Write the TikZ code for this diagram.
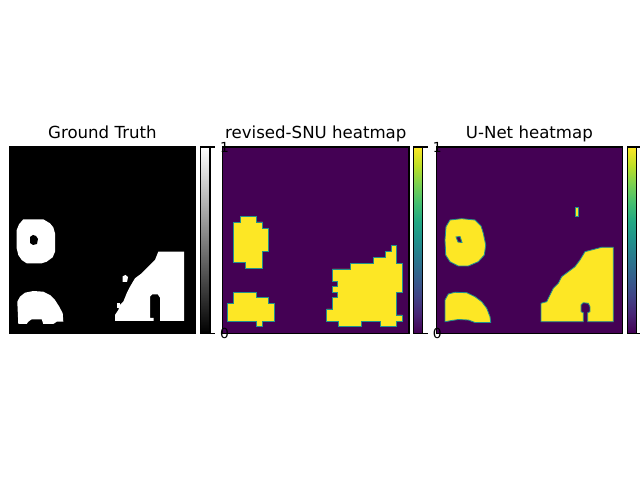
\documentclass[tikz,border=0pt]{standalone}
\usepackage{fontspec}
\setmainfont{DejaVu Sans}
\definecolor{vbg}{HTML}{440154}
\definecolor{vyel}{HTML}{FDE725}
\definecolor{vteal}{HTML}{21918C}
\definecolor{va}{HTML}{440154}
\definecolor{vb}{HTML}{482475}
\definecolor{vc}{HTML}{414487}
\definecolor{vd}{HTML}{355F8D}
\definecolor{ve}{HTML}{2A788E}
\definecolor{vf}{HTML}{21918C}
\definecolor{vg}{HTML}{22A884}
\definecolor{vh}{HTML}{44BF70}
\definecolor{vi}{HTML}{7AD151}
\definecolor{vj}{HTML}{BDDF26}
\definecolor{vk}{HTML}{FDE725}
\pgfdeclareverticalshading{viridisbar}{100bp}{color(0bp)=(va); color(25bp)=(va); color(30bp)=(vb); color(35bp)=(vc); color(40bp)=(vd); color(45bp)=(ve); color(50bp)=(vf); color(55bp)=(vg); color(60bp)=(vh); color(65bp)=(vi); color(70bp)=(vj); color(75bp)=(vk); color(100bp)=(vk)}
\tikzset{
  frame/.style={draw=black, line width=0.8bp},
  wblob/.style={fill=white},
  bhole/.style={fill=black},
  yblob/.style={fill=vyel, draw=vteal, line width=0.6bp, line join=miter},
  phole/.style={fill=vbg, draw=vteal, line width=0.6bp},
  ttl/.style={font=\fontsize{12}{14}\selectfont, anchor=base, inner sep=0pt},
  tlab/.style={font=\fontsize{10}{12}\selectfont, anchor=west, inner sep=0pt},
  tick/.style={line width=0.8bp}
}
\begin{document}
\begin{tikzpicture}[x=0.01in, y=-0.01in]
\useasboundingbox (0,0) rectangle (640,480);
\fill[white] (0,0) rectangle (640,480);

% ---------- Panel 1: Ground Truth ----------
\begin{scope}
\clip (9.2,147) rectangle (195.6,333.3);
\fill[black] (9.2,147) rectangle (195.6,333.3);
% donut
\fill[wblob] (23.3,219.3) -- (43.3,219.3) -- (50,223.3) -- (53.3,227.3) -- (55,233.3) -- (55,251.7) -- (52.7,257.3) -- (46.7,261.7) -- (41.7,263.3) -- (26.7,263.3) -- (21.7,260) -- (18.3,255) -- (16.7,248.3) -- (16.7,230) -- (19,224.3) -- cycle;
\fill[bhole] (30,237) -- (33,235) -- (36,236) -- (38,239) -- (37,244) -- (33,245) -- (30,243) -- cycle;
% lower-left arch
\fill[wblob] (18.3,324) -- (17.3,301.7) -- (20,296.7) -- (25,292.7) -- (33.3,291) -- (43.3,291.7) -- (50,295) -- (55,300) -- (59.3,306.7) -- (62.7,313.3) -- (63.3,321.7) -- (56.7,321.7) -- (53.3,324) -- (43.3,324) -- (41.7,319.3) -- (31.7,319.3) -- (28.3,321.7) -- (26.7,324) -- cycle;
% right shape with notch
\fill[wblob] (158.3,251.7) -- (184,251.7) -- (184,321) -- (160,321) -- (160,297.7) -- (157.7,294.3) -- (152.3,294.3) -- (150,296.7) -- (150,318) -- (153.5,318) -- (153.5,321) -- (115,321) -- (115,315) -- (118.3,310) -- (120,305) -- (123.3,301.7) -- (126.7,293.3) -- (130,286.7) -- (135,278.3) -- (141.7,273.3) -- (148.3,266.7) -- (155,260) -- cycle;
\fill[wblob] (122.5,276.5) -- (125.5,275) -- (128,277) -- (127,282) -- (122.5,282) -- cycle;
\fill[wblob] (116.7,303) rectangle (119.5,308);
\end{scope}
\draw[frame] (9.2,147) rectangle (195.6,333.3);
\node[ttl] (t1) at (102.4,138.7) {Ground Truth};
% colorbar 1
\shade[bottom color=black, top color=white] (200.3,147) rectangle (210,333.3);
\draw[frame] (200.3,147) rectangle (210,333.3);
\draw[tick] (210,147) -- (214.9,147);
\draw[tick] (210,333.3) -- (214.9,333.3);

% ---------- Panel 2: revised-SNU ----------
\begin{scope}
\clip (222.6,147) rectangle (409,333.3);
\fill[vbg] (222.6,147) rectangle (409,333.3);
\filldraw[yblob] (240,216.7) -- (256,216.7) -- (256,222) -- (262.7,222) -- (262.7,228.3) -- (268.3,228.3) -- (268.3,251) -- (262.7,251) -- (262.7,268.3) -- (245,268.3) -- (245,262.7) -- (233.3,262.7) -- (233.3,222.3) -- (240,222.3) -- cycle;
\filldraw[yblob] (233.3,292.3) -- (256,292.3) -- (256,297.7) -- (268.3,297.7) -- (268.3,303.3) -- (274,303.3) -- (274,321) -- (262.7,321) -- (262.7,326.7) -- (256.7,326.7) -- (256.7,321) -- (227.7,321) -- (227.7,303.3) -- (233.3,303.3) -- cycle;
\filldraw[yblob] (332.3,269) -- (350,269) -- (350,263.3) -- (373.3,263.3) -- (373.3,257.7) -- (385,257.7) -- (385,251.7) -- (391,251.7) -- (391,245.7) -- (396,245.7) -- (396,263.3) -- (402.3,263.3) -- (402.3,292.3) -- (396,292.3) -- (396,315) -- (402.3,315) -- (402.3,321) -- (396,321) -- (396,326.7) -- (380,326.7) -- (380,321) -- (361.7,321) -- (361.7,326.7) -- (338.3,326.7) -- (338.3,321) -- (326.7,321) -- (326.7,309) -- (332.3,309) -- (332.3,297.7) -- (337.7,297.7) -- (337.7,292.3) -- (332.3,292.3) -- (332.3,286.7) -- (337.7,286.7) -- (337.7,281) -- (332.3,281) -- cycle;
\end{scope}
\draw[frame] (222.6,147) rectangle (409,333.3);
\node[ttl] (t2) at (315.8,138.7) {revised-SNU heatmap};
% colorbar 2
\shade[shading=viridisbar] (413.3,147) rectangle (422.7,333.3);
\draw[frame] (413.3,147) rectangle (422.7,333.3);
\draw[tick] (422.7,147) -- (427.6,147);
\draw[tick] (422.7,333.3) -- (427.6,333.3);

% ---------- Panel 3: U-Net ----------
\begin{scope}
\clip (436.2,147) rectangle (622.6,333.3);
\fill[vbg] (436.2,147) rectangle (622.6,333.3);
\filldraw[yblob] (450,220) -- (461.7,218.7) -- (475,220) -- (481,226) -- (483.3,233.3) -- (485.7,245) -- (484.3,255) -- (478.3,261.7) -- (468.3,266) -- (458.3,266) -- (450,261.7) -- (445.7,255) -- (445,240) -- (446,226.7) -- cycle;
\filldraw[phole] (456,237) -- (460,236.5) -- (462,242.5) -- (458,242) -- cycle;
\filldraw[yblob] (575.7,207.3) rectangle (578.3,216.7);
\filldraw[yblob] (445,300) -- (448.3,294) -- (455,292.3) -- (466.7,292.7) -- (475,296.7) -- (481.7,301.7) -- (486.7,308.3) -- (490,316.7) -- (490.7,322.5) -- (475,322.5) -- (468.3,320) -- (458.3,319.5) -- (451.7,320.5) -- (445,321.7) -- cycle;
\filldraw[yblob] (585,251.7) -- (601.7,247.3) -- (613.3,247.3) -- (613.3,321.7) -- (587.7,321.7) -- (587.7,312.7) -- (590,311.7) -- (590,306.7) -- (588.3,303.3) -- (583.3,302.7) -- (581,305) -- (581,311.7) -- (583.3,312.7) -- (583.3,321.7) -- (541,321.7) -- (541,303.3) -- (546.7,301.7) -- (550,295) -- (553.3,288.3) -- (558.3,283.3) -- (561.7,276.7) -- (568.3,271.7) -- (575,266.7) -- (580,260) -- cycle;
\end{scope}
\draw[frame] (436.2,147) rectangle (622.6,333.3);
\node[ttl] (t3) at (529.4,138.7) {U-Net heatmap};
% colorbar 3
\shade[shading=viridisbar] (627.3,147) rectangle (636.3,333.3);
\draw[frame] (627.3,147) rectangle (636.3,333.3);
\draw[tick] (636.3,147) -- (641.2,147);
\draw[tick] (636.3,333.3) -- (641.2,333.3);

% tick labels
\node[tlab] (c1top) at (219.8,147) {1};
\node[tlab] (c1bot) at (219.8,333.3) {0};
\node[tlab] (c2top) at (432.5,147) {1};
\node[tlab] (c2bot) at (432.5,333.3) {0};
\end{tikzpicture}
\end{document}
